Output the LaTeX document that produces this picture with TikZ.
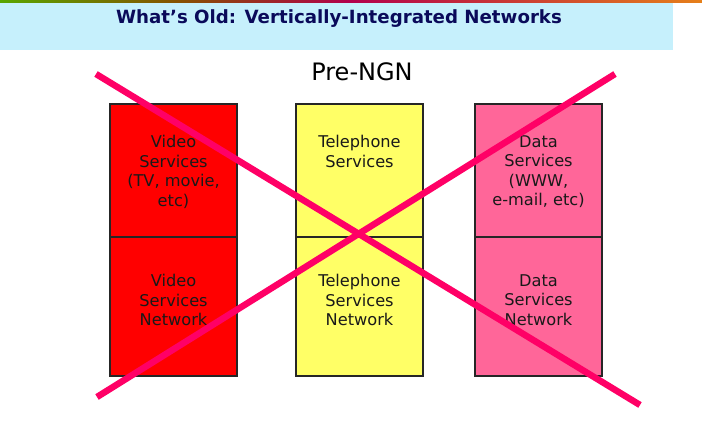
\documentclass[tikz,border=0pt]{standalone}
\usepackage{fontspec}
\setmainfont{DejaVu Sans}
\definecolor{band}{HTML}{C6F0FC}
\definecolor{titlecol}{HTML}{0A0A5A}
\definecolor{vred}{HTML}{FF0000}
\definecolor{tyel}{HTML}{FFFF66}
\definecolor{dpink}{HTML}{FF6699}
\definecolor{xpink}{HTML}{FF0066}
\tikzset{
  cell/.style={draw=black!85, line width=1.2pt, minimum width=127pt, inner sep=0pt, outer sep=0pt, anchor=north west},
  lbl/.style={anchor=north, align=center, font=\fontsize{16.2}{19.5}\selectfont, inner sep=0pt, text=black!90},
  cross/.style={draw=xpink, line width=6.5pt},
}
\begin{document}
\begin{tikzpicture}[x=1pt,y=-1pt]
\useasboundingbox (0,0) rectangle (702,441);
\fill[white] (0,0) rectangle (702,441);
% top photo strip
\shade[left color=olive!70!green, right color=violet!60!red] (0,0) rectangle (351,3);
\shade[left color=violet!60!red, right color=orange!60!brown] (351,0) rectangle (702,3);
\fill[band] (0,3) rectangle (673,50);
\node[font=\bfseries\fontsize{18.2}{22}\selectfont, text=titlecol] (title) at (339,19) {What’s Old: Vertically-Integrated Networks};
\node[font=\fontsize{24}{28}\selectfont] (pre) at (362,72) {Pre-NGN};
% boxes
\node[cell, fill=vred, minimum height=133pt] (v1) at (110,104) {};
\node[cell, fill=vred, minimum height=139pt] (v2) at (110,237) {};
\node[cell, fill=tyel, minimum height=133pt] (t1) at (296,104) {};
\node[cell, fill=tyel, minimum height=139pt] (t2) at (296,237) {};
\node[cell, fill=dpink, minimum height=133pt] (d1) at (475,104) {};
\node[cell, fill=dpink, minimum height=139pt] (d2) at (475,237) {};
% labels
\node[lbl] (v1l) at ([yshift=-31pt]v1.north) {Video\\Services\\(TV, movie,\\etc)};
\node[lbl] (t1l) at ([yshift=-31pt]t1.north) {Telephone\\Services};
\node[lbl] (d1l) at ([yshift=-31pt]d1.north) {Data\\Services\\(WWW,\\e-mail, etc)};
\node[lbl] (v2l) at ([yshift=-37pt]v2.north) {Video\\Services\\Network};
\node[lbl] (t2l) at ([yshift=-37pt]t2.north) {Telephone\\Services\\Network};
\node[lbl] (d2l) at ([yshift=-37pt]d2.north) {Data\\Services\\Network};
% cross
\coordinate (a1) at (96,74);
\coordinate (a2) at (640,405);
\coordinate (b1) at (97,397);
\coordinate (b2) at (615,74);
\draw[cross] (a1) -- (a2);
\draw[cross] (b1) -- (b2);
\end{tikzpicture}
\end{document}
